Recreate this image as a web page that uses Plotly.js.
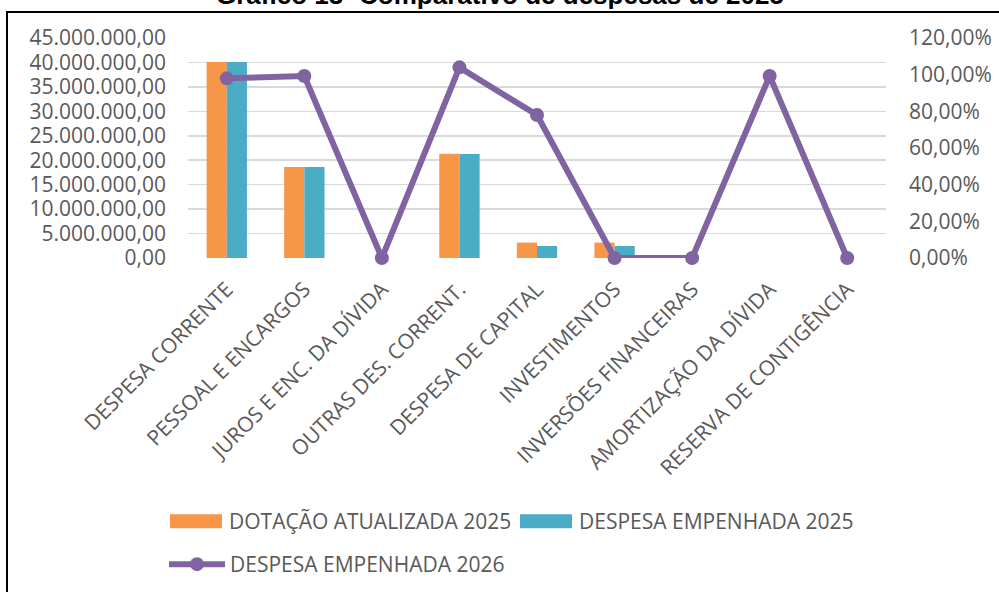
<!DOCTYPE html>
<html>
<head>
<meta charset="utf-8">
<script src="https://cdn.plot.ly/plotly-3.0.1.min.js"></script>
<style>
  body { margin: 0; background: #fff; }
  #chart { width: 999px; height: 592px; }
  #frame {
    position: absolute; left: 6px; top: 11px; right: -10px; bottom: -10px;
    border-left: 2px solid #000; border-top: 2px solid #000;
    pointer-events: none;
  }
</style>
</head>
<body>
<div id="chart"></div>
<div id="frame"></div>
<script>
const categories = [
    "DESPESA CORRENTE",
    "PESSOAL E ENCARGOS",
    "JUROS E ENC. DA DÍVIDA",
    "OUTRAS DES. CORRENT.",
    "DESPESA DE CAPITAL",
    "INVESTIMENTOS",
    "INVERSÕES FINANCEIRAS",
    "AMORTIZAÇÃO DA DÍVIDA",
    "RESERVA DE CONTIGÊNCIA"
]
const dotacao2025 = [40100000, 18600000, 0, 21300000, 3150000, 3150000, 0, 0, 0]
const empenhada2025 = [40100000, 18600000, 0, 21250000, 2450000, 2450000, 0, 0, 0]
const empenhada2026 = [0.98, 0.993, 0, 1.04, 0.78, 0, 0, 0.993, 0]

const font = "Open Sans, sans-serif"
const grey = "#595959"
const fsize = 21
const itemW = 56
const mTop = 38, plotH = 220

const bars1 = {
    name: "DOTAÇÃO ATUALIZADA 2025",
    type: "bar",
    x: categories,
    y: dotacao2025,
    marker: {color: "#F79646"},
    legend: "legend",
    hoverinfo: "skip"
}
const bars2 = {
    name: "DESPESA EMPENHADA 2025",
    type: "bar",
    x: categories,
    y: empenhada2025,
    marker: {color: "#4BACC6"},
    legend: "legend2",
    hoverinfo: "skip"
}
const line = {
    name: "DESPESA EMPENHADA 2026",
    type: "scatter",
    mode: "lines+markers",
    x: categories,
    y: empenhada2026,
    yaxis: "y2",
    line: {color: "#8064A2", width: 6},
    marker: {color: "#8064A2", size: 14},
    cliponaxis: false,
    legend: "legend3",
    hoverinfo: "skip"
}

const legendAt = (left, top) => ({
    orientation: "h",
    xref: "container",
    yref: "container",
    x: left / 999,
    y: 1 - top / 592,
    xanchor: "left",
    yanchor: "top",
    itemwidth: itemW,
    font: {family: font, size: fsize, color: grey}
})

const layout = {
    width: 999,
    height: 592,
    margin: {l: 188, r: 113, t: mTop, b: 334},
    paper_bgcolor: "#fff",
    plot_bgcolor: "#fff",
    separators: ",.",
    font: {family: font, size: fsize, color: grey},
    barmode: "group",
    bargap: 0.48,
    bargroupgap: 0,
    showlegend: true,
    annotations: [{
        // chart title, cut at the top edge as in the source image
        text: "<b>Gráfico 13- Comparativo de despesas de 2025</b>",
        font: {family: "Liberation Sans, Arial, sans-serif", size: 26, color: "#000"},
        xref: "paper",
        yref: "paper",
        x: (500 - 188) / 698,
        y: 1 + (mTop - 12) / plotH,
        xanchor: "center",
        yanchor: "bottom",
        showarrow: false
    }],
    xaxis: {
        type: "category",
        range: [-0.5, categories.length - 0.5],
        tickangle: -45,
        showgrid: false,
        showline: false,
        zeroline: false,
        ticks: "",
        ticklabelstandoff: 14,
        tickfont: {family: font, size: fsize, color: grey}
    },
    yaxis: {
        range: [0, 45000000],
        dtick: 5000000,
        tickformat: ",.2f",
        showgrid: true,
        gridcolor: "#D9D9D9",
        gridwidth: 1.5,
        zeroline: false,
        showline: false,
        ticks: "",
        ticklabelstandoff: 21,
        tickfont: {family: font, size: fsize, color: grey}
    },
    yaxis2: {
        overlaying: "y",
        side: "right",
        range: [0, 1.2],
        dtick: 0.2,
        tickformat: ".2%",
        showgrid: false,
        zeroline: false,
        showline: false,
        ticks: "",
        ticklabelstandoff: 22,
        tickfont: {family: font, size: fsize, color: grey}
    },
    legend: legendAt(163, 501),
    legend2: legendAt(513, 501),
    legend3: legendAt(164, 544)
}

Plotly.newPlot("chart", [bars1, bars2, line], layout, {staticPlot: true}).then(gd => {
    // wide flat legend swatches for the bars, like the office chart
    const cx = 5 + itemW / 2
    gd.querySelectorAll(".legendpoints path.legendbar, .legendpoints path.legendundefined").forEach(p => {
        p.setAttribute("d", "M26,7H-26V-7H26Z")
        p.setAttribute("transform", "translate(" + cx + ",0)")
    })
})
</script>
</body>
</html>
